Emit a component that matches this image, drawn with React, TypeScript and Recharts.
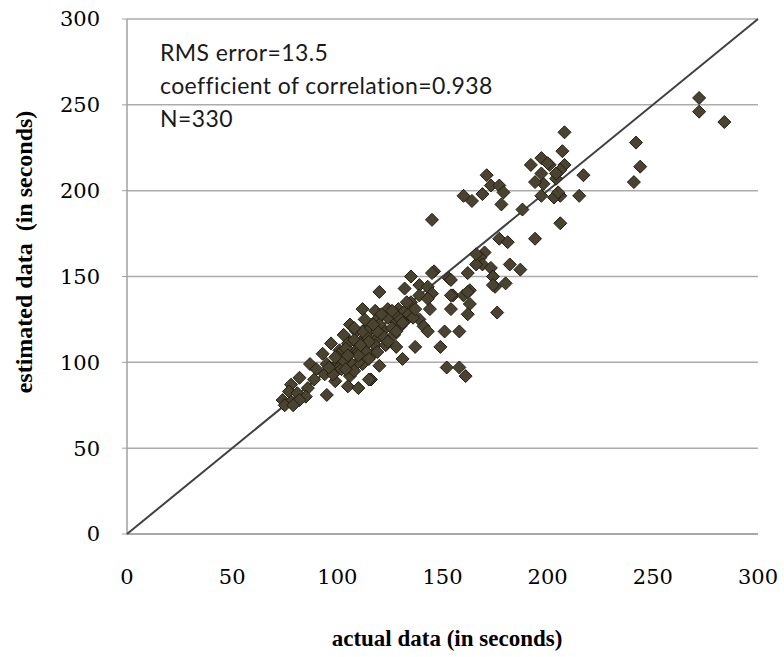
import React from "react"
import { ScatterChart, Scatter, XAxis, YAxis, CartesianGrid, Label } from "recharts"

// values (seconds)
const actual = [
    272, 272, 284, 242, 244, 241, 217, 215, 208, 207,
    208, 206, 201, 197, 204, 206, 203, 197, 206, 198,
    192, 200, 197, 204, 194, 205, 188, 194, 171, 173,
    177, 179, 169, 160, 164, 178, 145, 177, 181, 170,
    168, 169, 173, 166, 182, 187, 146, 153, 162, 174,
    180, 175, 163, 155, 160, 166, 174, 176, 163, 162,
    135, 145, 154, 120, 132, 139, 143, 139, 145, 143,
    135, 154, 162, 154, 144, 139, 141, 143, 151, 158,
    149, 137, 128, 131, 152, 158, 161, 116, 112, 124,
    129, 118, 119, 127, 133, 113, 122, 130, 103, 106,
    112, 119, 101, 109, 117, 100, 112, 120, 106, 106,
    109, 97, 105, 114, 93, 101, 110, 95, 101, 110,
    87, 90, 94, 99, 105, 110, 115, 89, 82, 78,
    77, 86, 81, 85, 95, 74, 78, 82, 75, 79,
    100, 104, 108, 112, 116, 120, 124, 128, 132, 126,
    122, 118, 114, 110, 106, 102, 98, 96, 103, 108,
    115, 119, 123, 127, 130, 134, 126, 121, 117, 113,
    108, 105, 99, 104, 111, 115, 119, 124, 128, 131, 136, 137, 133,
]

const estimated = [
    254, 246, 240, 228, 214, 205, 209, 197, 234, 223,
    215, 212, 215, 219, 207, 197, 196, 197, 181, 204,
    215, 216, 210, 210, 205, 199, 189, 172, 209, 203,
    203, 199, 198, 197, 194, 192, 183, 172, 170, 164,
    161, 157, 155, 157, 157, 154, 153, 149, 152, 150,
    146, 144, 142, 139, 139, 163, 145, 129, 134, 128,
    150, 152, 148, 141, 143, 145, 144, 139, 140, 137,
    135, 139, 141, 131, 131, 125, 121, 118, 118, 118,
    109, 109, 109, 102, 97, 97, 92, 90, 131, 131,
    131, 130, 125, 125, 125, 119, 119, 121, 116, 112,
    113, 114, 107, 107, 105, 99, 99, 98, 92, 122,
    118, 111, 111, 115, 105, 105, 106, 99, 97, 100,
    99, 96, 93, 89, 86, 85, 90, 90, 91, 87,
    83, 85, 82, 80, 81, 78, 77, 78, 75, 75,
    103, 108, 113, 118, 120, 122, 126, 128, 130, 120,
    115, 110, 106, 104, 100, 96, 93, 97, 101, 95,
    112, 118, 110, 116, 125, 128, 130, 128, 122, 125,
    120, 104, 103, 96, 110, 102, 106, 112, 118, 123, 126, 131, 135,
]

// y = x reference line ends
const diagonal = [0, 300]

const xTicks = [0, 50, 100, 150, 200, 250, 300]
const yTicks = [0, 50, 100, 150, 200, 250, 300]

const notes = ["RMS error=13.5", "coefficient of correlation=0.938", "N=330"]

const points = actual.map((x, i) => ({ x, y: estimated[i] }))
const diagPoints = diagonal.map((v) => ({ x: v, y: v }))

const Diamond = (props: any) => {
    const { cx, cy } = props
    const r = 6.5
    return (
        <polygon
            points={`${cx},${cy - r} ${cx + r},${cy} ${cx},${cy + r} ${cx - r},${cy}`}
            fill="#4a4330"
            stroke="#221e13"
            strokeWidth={1}
        />
    )
}

const tickStyle = { fill: "#000", fontSize: 21, fontFamily: "DejaVu Serif" }

export default function App() {
    return (
        <div style={{ position: "absolute", left: 0, top: 0, width: 784, height: 657, background: "#fff" }}>
            <ScatterChart width={784} height={657} margin={{ top: 19, right: 26, bottom: 0, left: 0 }}>
                <CartesianGrid vertical={false} stroke="#ababab" strokeWidth={1.5} />
                <XAxis
                    type="number"
                    dataKey="x"
                    domain={[0, 300]}
                    ticks={xTicks}
                    interval={0}
                    tickLine={false}
                    tickSize={0}
                    tickMargin={35}
                    height={123}
                    axisLine={{ stroke: "#a0a0a0", strokeWidth: 1.5 }}
                    tick={tickStyle}
                >
                    <Label
                        content={() => (
                            <text x={447} y={646} textAnchor="middle" fontFamily="Liberation Serif" fontWeight="bold" fontSize={23} fill="#000">
                                actual data (in seconds)
                            </text>
                        )}
                    />
                </XAxis>
                <YAxis
                    type="number"
                    dataKey="y"
                    domain={[0, 300]}
                    ticks={yTicks}
                    interval={0}
                    width={127}
                    tickSize={5}
                    tickMargin={22}
                    tickLine={{ stroke: "#a0a0a0" }}
                    axisLine={{ stroke: "#a0a0a0", strokeWidth: 1.5 }}
                    tick={tickStyle}
                >
                    <Label
                        content={() => (
                            <text
                                x={32}
                                y={252}
                                transform="rotate(-90, 32, 252)"
                                textAnchor="middle"
                                fontFamily="Liberation Serif"
                                fontWeight="bold"
                                fontSize={24}
                                fill="#000"
                                style={{ whiteSpace: "pre" }}
                            >
                                estimated data  (in seconds)
                            </text>
                        )}
                    />
                </YAxis>
                <Scatter
                    data={diagPoints}
                    line={{ stroke: "#404040", strokeWidth: 2 }}
                    shape={() => <g />}
                    isAnimationActive={false}
                />
                <Scatter data={points} shape={Diamond} isAnimationActive={false} />
                <g>
                    {notes.map((t, i) => (
                        <text key={t} x={160} y={61 + i * 33} fontFamily="Lato" fontSize={23} letterSpacing={0.4} fill="#1a1a1a">
                            {t}
                        </text>
                    ))}
                </g>
            </ScatterChart>
        </div>
    )
}
